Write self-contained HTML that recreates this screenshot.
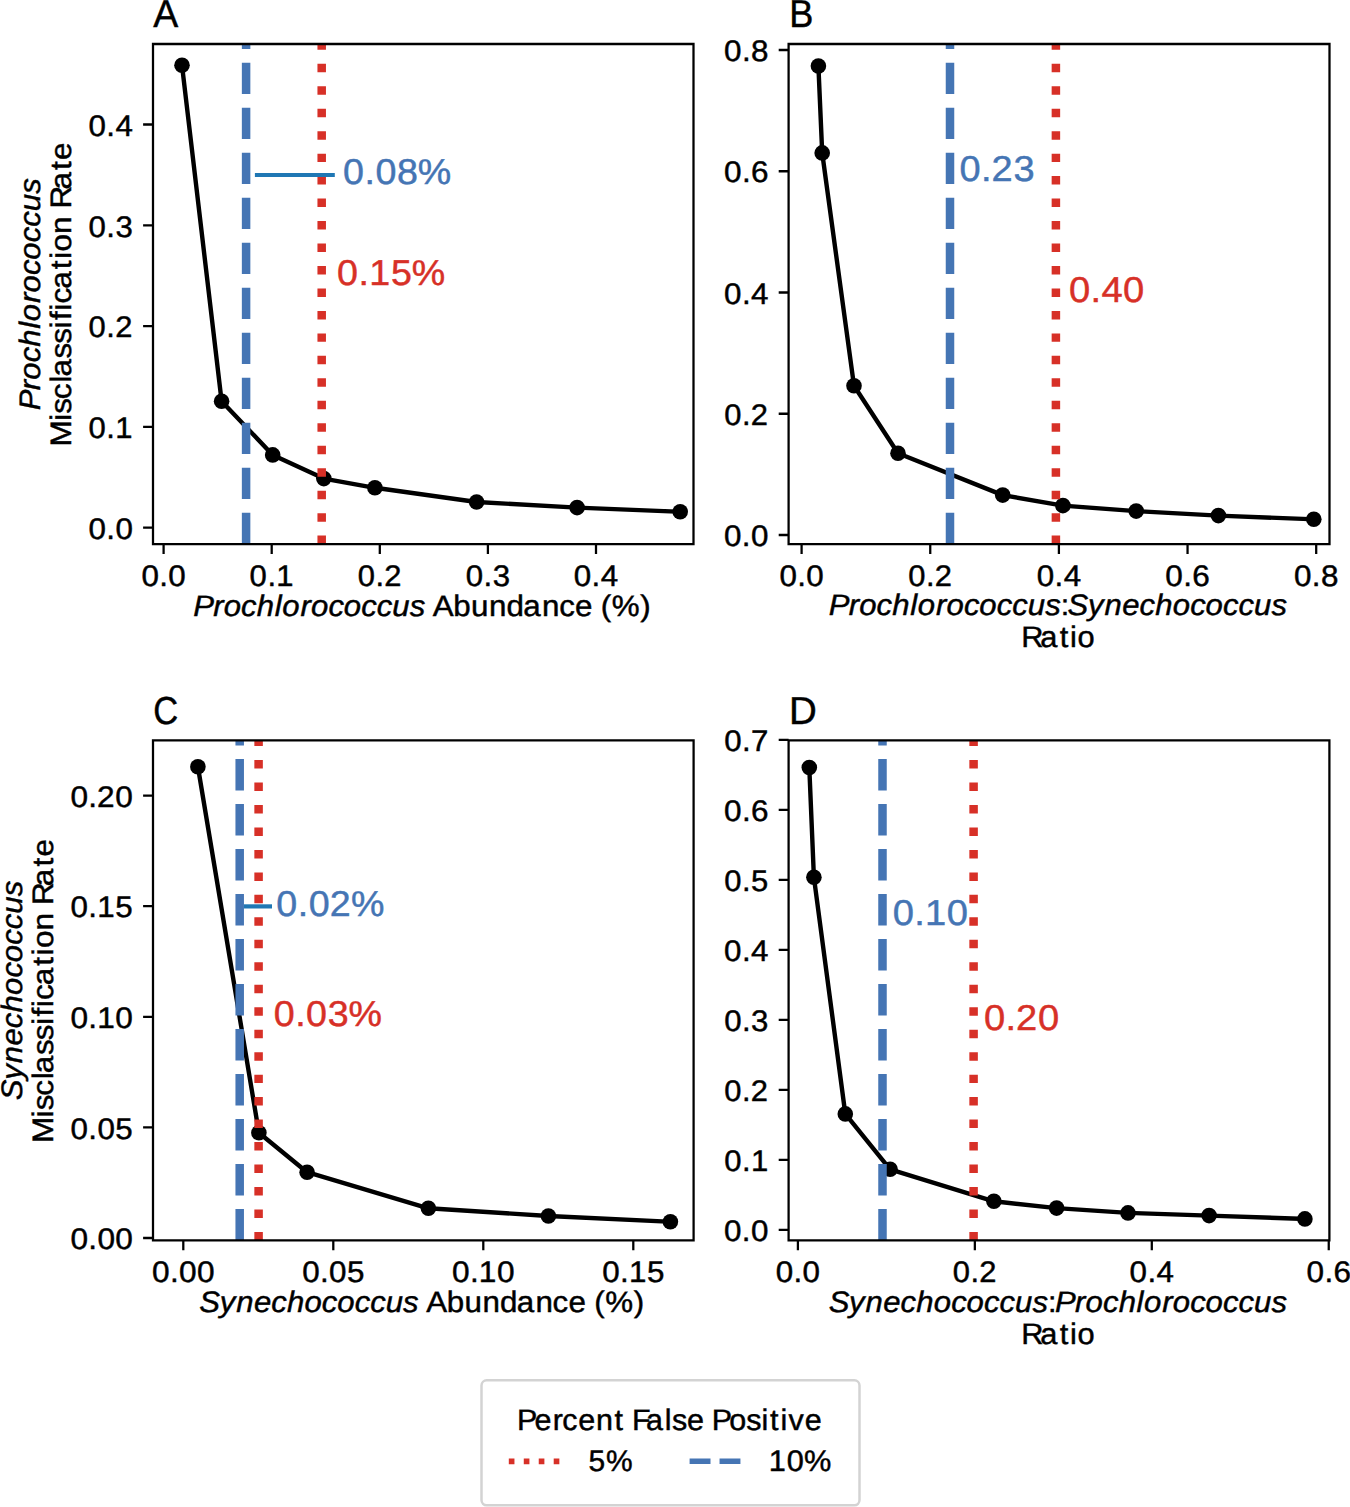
<!DOCTYPE html><html><head><meta charset="utf-8"><title>Misclassification rate</title><style>html,body{margin:0;padding:0;background:#fff;overflow:hidden;width:1350px;height:1507px;}svg{display:block;}text{font-family:"Liberation Sans",sans-serif;font-kerning:none;font-variant-ligatures:none;white-space:pre;text-rendering:geometricPrecision;}</style></head><body>
<svg width="1350" height="1507" viewBox="0 0 1350 1507">
<rect width="1350" height="1507" fill="#fff"/>
<polyline points="182,65.3 221.6,401.3 272.7,454.9 323.8,478.6 374.9,487.8 476.6,502 577.1,507.6 680.2,511.8" fill="none" stroke="#000" stroke-width="4.4" stroke-linejoin="round" stroke-linecap="square"/>
<circle cx="182" cy="65.3" r="7.8" fill="#000"/>
<circle cx="221.6" cy="401.3" r="7.8" fill="#000"/>
<circle cx="272.7" cy="454.9" r="7.8" fill="#000"/>
<circle cx="323.8" cy="478.6" r="7.8" fill="#000"/>
<circle cx="374.9" cy="487.8" r="7.8" fill="#000"/>
<circle cx="476.6" cy="502" r="7.8" fill="#000"/>
<circle cx="577.1" cy="507.6" r="7.8" fill="#000"/>
<circle cx="680.2" cy="511.8" r="7.8" fill="#000"/>
<path d="M321.7,544.1V44" stroke="#d73027" stroke-width="8.5" stroke-dasharray="8.48 13.99" fill="none"/>
<path d="M246.1,544.1V44" stroke="#4575b4" stroke-width="8.5" stroke-dasharray="31.4 13.6" fill="none"/>
<path d="M254.9,175H334.8" stroke="#1f77b4" stroke-width="4.2" fill="none"/>
<path d="M153,544.1V44M693.5,544.1V44M153,544.1H693.5M153,44H693.5" stroke="#000" stroke-width="2.26" stroke-linecap="square" fill="none"/>
<path d="M163.6,544.1v9.9M271.7,544.1v9.9M379.8,544.1v9.9M487.9,544.1v9.9M596,544.1v9.9M153,527.7h-9.9M153,426.9h-9.9M153,326.1h-9.9M153,225.3h-9.9M153,124.5h-9.9" stroke="#000" stroke-width="2.26" fill="none"/>
<text x="134.26 151.17 159.81" y="0" transform="translate(0,585.9) scale(1.0533,1)" font-size="29.75" fill="#000" stroke="#000" stroke-width="0.45" style="">0.0</text>
<text x="239.46 256.5 265.11" y="0" transform="translate(0,585.9) scale(1.0424,1)" font-size="29.75" fill="#000" stroke="#000" stroke-width="0.45" style="">0.1</text>
<text x="344.69 361.79 370.26" y="0" transform="translate(0,585.9) scale(1.0379,1)" font-size="29.75" fill="#000" stroke="#000" stroke-width="0.45" style="">0.2</text>
<text x="444.71 461.69 470.44" y="0" transform="translate(0,585.9) scale(1.0474,1)" font-size="29.75" fill="#000" stroke="#000" stroke-width="0.45" style="">0.3</text>
<text x="544.99 561.9 570.55" y="0" transform="translate(0,585.9) scale(1.0529,1)" font-size="29.75" fill="#000" stroke="#000" stroke-width="0.45" style="">0.4</text>
<text x="84.02 100.93 109.56" y="0" transform="translate(0,538.9) scale(1.0533,1)" font-size="29.75" fill="#000" stroke="#000" stroke-width="0.45" style="">0.0</text>
<text x="84.99 102.03 110.64" y="0" transform="translate(0,438.1) scale(1.0424,1)" font-size="29.75" fill="#000" stroke="#000" stroke-width="0.45" style="">0.1</text>
<text x="85.39 102.49 110.96" y="0" transform="translate(0,337.3) scale(1.0379,1)" font-size="29.75" fill="#000" stroke="#000" stroke-width="0.45" style="">0.2</text>
<text x="84.55 101.53 110.28" y="0" transform="translate(0,236.5) scale(1.0474,1)" font-size="29.75" fill="#000" stroke="#000" stroke-width="0.45" style="">0.3</text>
<text x="84.06 100.97 109.61" y="0" transform="translate(0,135.7) scale(1.0529,1)" font-size="29.75" fill="#000" stroke="#000" stroke-width="0.45" style="">0.4</text>
<text x="326.94 347.38 357.86 378.48 398.22" y="0" transform="translate(0,184.4) scale(1.0491,1)" font-size="35.87" fill="#4575b4" stroke="#4575b4" stroke-width="0.45" style="">0.08%</text>
<text x="321.22 341.67 351.94 372.64 392.5" y="0" transform="translate(0,285.1) scale(1.0491,1)" font-size="35.87" fill="#d73027" stroke="#d73027" stroke-width="0.45" style="">0.15%</text>
<text x="159.7" y="0" transform="translate(0,27.2) scale(0.9594,1)" font-size="39.06" fill="#000" stroke="#000" stroke-width="0.45" style="">A</text>
<polyline points="818.4,66 822.2,152.9 854,385.8 898,453.3 1002.7,495.1 1062.9,505.6 1136.2,511.1 1218.4,515.6 1313.8,519.3" fill="none" stroke="#000" stroke-width="4.4" stroke-linejoin="round" stroke-linecap="square"/>
<circle cx="818.4" cy="66" r="7.8" fill="#000"/>
<circle cx="822.2" cy="152.9" r="7.8" fill="#000"/>
<circle cx="854" cy="385.8" r="7.8" fill="#000"/>
<circle cx="898" cy="453.3" r="7.8" fill="#000"/>
<circle cx="1002.7" cy="495.1" r="7.8" fill="#000"/>
<circle cx="1062.9" cy="505.6" r="7.8" fill="#000"/>
<circle cx="1136.2" cy="511.1" r="7.8" fill="#000"/>
<circle cx="1218.4" cy="515.6" r="7.8" fill="#000"/>
<circle cx="1313.8" cy="519.3" r="7.8" fill="#000"/>
<path d="M1055.9,544.1V44" stroke="#d73027" stroke-width="8.5" stroke-dasharray="8.48 13.99" fill="none"/>
<path d="M950,544.1V44" stroke="#4575b4" stroke-width="8.5" stroke-dasharray="31.4 13.6" fill="none"/>
<path d="M788.6,544.1V44M1329.5,544.1V44M788.6,544.1H1329.5M788.6,44H1329.5" stroke="#000" stroke-width="2.26" stroke-linecap="square" fill="none"/>
<path d="M801.6,544.1v9.9M930.25,544.1v9.9M1058.9,544.1v9.9M1187.55,544.1v9.9M1316.2,544.1v9.9M788.6,535h-9.9M788.6,413.75h-9.9M788.6,292.5h-9.9M788.6,171.25h-9.9M788.6,50h-9.9" stroke="#000" stroke-width="2.26" fill="none"/>
<text x="739.95 756.86 765.5" y="0" transform="translate(0,585.9) scale(1.0533,1)" font-size="29.75" fill="#000" stroke="#000" stroke-width="0.45" style="">0.0</text>
<text x="875.05 892.15 900.62" y="0" transform="translate(0,585.9) scale(1.0379,1)" font-size="29.75" fill="#000" stroke="#000" stroke-width="0.45" style="">0.2</text>
<text x="984.63 1001.54 1010.19" y="0" transform="translate(0,585.9) scale(1.0529,1)" font-size="29.75" fill="#000" stroke="#000" stroke-width="0.45" style="">0.4</text>
<text x="1099.61 1116.44 1125" y="0" transform="translate(0,585.9) scale(1.0598,1)" font-size="29.75" fill="#000" stroke="#000" stroke-width="0.45" style="">0.6</text>
<text x="1226.01 1242.89 1251.5" y="0" transform="translate(0,585.9) scale(1.0555,1)" font-size="29.75" fill="#000" stroke="#000" stroke-width="0.45" style="">0.8</text>
<text x="687.43 704.34 712.98" y="0" transform="translate(0,546.2) scale(1.0533,1)" font-size="29.75" fill="#000" stroke="#000" stroke-width="0.45" style="">0.0</text>
<text x="697.79 714.89 723.36" y="0" transform="translate(0,424.95) scale(1.0379,1)" font-size="29.75" fill="#000" stroke="#000" stroke-width="0.45" style="">0.2</text>
<text x="687.72 704.63 713.27" y="0" transform="translate(0,303.7) scale(1.0529,1)" font-size="29.75" fill="#000" stroke="#000" stroke-width="0.45" style="">0.4</text>
<text x="683.22 700.05 708.61" y="0" transform="translate(0,182.45) scale(1.0598,1)" font-size="29.75" fill="#000" stroke="#000" stroke-width="0.45" style="">0.6</text>
<text x="686.03 702.91 711.52" y="0" transform="translate(0,61.2) scale(1.0555,1)" font-size="29.75" fill="#000" stroke="#000" stroke-width="0.45" style="">0.8</text>
<text x="906.56 926.87 936.79 957.7" y="0" transform="translate(0,180.9) scale(1.0584,1)" font-size="35.87" fill="#4575b4" stroke="#4575b4" stroke-width="0.45" style="">0.23</text>
<text x="1006.02 1026.27 1036.55 1056.91" y="0" transform="translate(0,301.8) scale(1.0626,1)" font-size="35.87" fill="#d73027" stroke="#d73027" stroke-width="0.45" style="">0.40</text>
<text x="853.01" y="0" transform="translate(0,27.2) scale(0.9253,1)" font-size="39.06" fill="#000" stroke="#000" stroke-width="0.45" style="">B</text>
<polyline points="197.9,766.7 258.9,1132.7 307.1,1172.2 428.4,1208.3 548.4,1216 670.4,1221.8" fill="none" stroke="#000" stroke-width="4.4" stroke-linejoin="round" stroke-linecap="square"/>
<circle cx="197.9" cy="766.7" r="7.8" fill="#000"/>
<circle cx="258.9" cy="1132.7" r="7.8" fill="#000"/>
<circle cx="307.1" cy="1172.2" r="7.8" fill="#000"/>
<circle cx="428.4" cy="1208.3" r="7.8" fill="#000"/>
<circle cx="548.4" cy="1216" r="7.8" fill="#000"/>
<circle cx="670.4" cy="1221.8" r="7.8" fill="#000"/>
<path d="M258.6,1240.4V740.4" stroke="#d73027" stroke-width="8.5" stroke-dasharray="8.48 13.99" fill="none"/>
<path d="M239.7,1240.4V740.4" stroke="#4575b4" stroke-width="8.5" stroke-dasharray="31.4 13.6" fill="none"/>
<path d="M243.9,906.4H272" stroke="#1f77b4" stroke-width="4.2" fill="none"/>
<path d="M153,1240.4V740.4M693.6,1240.4V740.4M153,1240.4H693.6M153,740.4H693.6" stroke="#000" stroke-width="2.26" stroke-linecap="square" fill="none"/>
<path d="M183.3,1240.4v9.9M333.3,1240.4v9.9M483.3,1240.4v9.9M633.3,1240.4v9.9M153,1238h-9.9M153,1127.4h-9.9M153,1016.8h-9.9M153,906.2h-9.9M153,795.6h-9.9" stroke="#000" stroke-width="2.26" fill="none"/>
<text x="143.12 159.92 168.44 185.33" y="0" transform="translate(0,1282.2) scale(1.0626,1)" font-size="29.75" fill="#000" stroke="#000" stroke-width="0.45" style="">0.00</text>
<text x="286.79 303.69 312.33 329.25" y="0" transform="translate(0,1282.2) scale(1.0536,1)" font-size="29.75" fill="#000" stroke="#000" stroke-width="0.45" style="">0.05</text>
<text x="425.46 442.25 450.61 467.66" y="0" transform="translate(0,1282.2) scale(1.0626,1)" font-size="29.75" fill="#000" stroke="#000" stroke-width="0.45" style="">0.10</text>
<text x="571.53 588.44 596.91 614" y="0" transform="translate(0,1282.2) scale(1.0536,1)" font-size="29.75" fill="#000" stroke="#000" stroke-width="0.45" style="">0.15</text>
<text x="66.33 83.13 91.65 108.54" y="0" transform="translate(0,1249.2) scale(1.0626,1)" font-size="29.75" fill="#000" stroke="#000" stroke-width="0.45" style="">0.00</text>
<text x="66.97 83.87 92.51 109.44" y="0" transform="translate(0,1138.6) scale(1.0536,1)" font-size="29.75" fill="#000" stroke="#000" stroke-width="0.45" style="">0.05</text>
<text x="66.33 83.13 91.49 108.54" y="0" transform="translate(0,1028) scale(1.0626,1)" font-size="29.75" fill="#000" stroke="#000" stroke-width="0.45" style="">0.10</text>
<text x="66.97 83.87 92.34 109.44" y="0" transform="translate(0,917.4) scale(1.0536,1)" font-size="29.75" fill="#000" stroke="#000" stroke-width="0.45" style="">0.15</text>
<text x="66.33 83.13 91.3 108.54" y="0" transform="translate(0,806.8) scale(1.0626,1)" font-size="29.75" fill="#000" stroke="#000" stroke-width="0.45" style="">0.20</text>
<text x="263.27 283.71 294.19 314.38 334.55" y="0" transform="translate(0,915.8) scale(1.0491,1)" font-size="35.87" fill="#4575b4" stroke="#4575b4" stroke-width="0.45" style="">0.02%</text>
<text x="260.89 281.33 291.81 312.47 332.17" y="0" transform="translate(0,1026.4) scale(1.0491,1)" font-size="35.87" fill="#d73027" stroke="#d73027" stroke-width="0.45" style="">0.03%</text>
<text x="173.44" y="0" transform="translate(0,723.6) scale(0.8841,1)" font-size="39.06" fill="#000" stroke="#000" stroke-width="0.45" style="">C</text>
<polyline points="809.3,767.5 813.9,877.2 845.3,1113.9 890.1,1169.3 993.9,1201.3 1056.6,1208.1 1128,1212.9 1209.1,1215.6 1304.9,1218.9" fill="none" stroke="#000" stroke-width="4.4" stroke-linejoin="round" stroke-linecap="square"/>
<circle cx="809.3" cy="767.5" r="7.8" fill="#000"/>
<circle cx="813.9" cy="877.2" r="7.8" fill="#000"/>
<circle cx="845.3" cy="1113.9" r="7.8" fill="#000"/>
<circle cx="890.1" cy="1169.3" r="7.8" fill="#000"/>
<circle cx="993.9" cy="1201.3" r="7.8" fill="#000"/>
<circle cx="1056.6" cy="1208.1" r="7.8" fill="#000"/>
<circle cx="1128" cy="1212.9" r="7.8" fill="#000"/>
<circle cx="1209.1" cy="1215.6" r="7.8" fill="#000"/>
<circle cx="1304.9" cy="1218.9" r="7.8" fill="#000"/>
<path d="M973.6,1240.4V740.4" stroke="#d73027" stroke-width="8.5" stroke-dasharray="8.48 13.99" fill="none"/>
<path d="M882.5,1240.4V740.4" stroke="#4575b4" stroke-width="8.5" stroke-dasharray="31.4 13.6" fill="none"/>
<path d="M788.6,1240.4V740.4M1329.4,1240.4V740.4M788.6,1240.4H1329.4M788.6,740.4H1329.4" stroke="#000" stroke-width="2.26" stroke-linecap="square" fill="none"/>
<path d="M797.9,1240.4v9.9M974.85,1240.4v9.9M1151.8,1240.4v9.9M1328.75,1240.4v9.9M788.6,1229.95h-9.9M788.6,1159.93h-9.9M788.6,1089.91h-9.9M788.6,1019.89h-9.9M788.6,949.87h-9.9M788.6,879.85h-9.9M788.6,809.83h-9.9M788.6,739.81h-9.9" stroke="#000" stroke-width="2.26" fill="none"/>
<text x="736.44 753.35 761.99" y="0" transform="translate(0,1282.2) scale(1.0533,1)" font-size="29.75" fill="#000" stroke="#000" stroke-width="0.45" style="">0.0</text>
<text x="918.02 935.12 943.59" y="0" transform="translate(0,1282.2) scale(1.0379,1)" font-size="29.75" fill="#000" stroke="#000" stroke-width="0.45" style="">0.2</text>
<text x="1072.86 1089.77 1098.42" y="0" transform="translate(0,1282.2) scale(1.0529,1)" font-size="29.75" fill="#000" stroke="#000" stroke-width="0.45" style="">0.4</text>
<text x="1232.85 1249.68 1258.24" y="0" transform="translate(0,1282.2) scale(1.0598,1)" font-size="29.75" fill="#000" stroke="#000" stroke-width="0.45" style="">0.6</text>
<text x="687.43 704.34 712.98" y="0" transform="translate(0,1241.15) scale(1.0533,1)" font-size="29.75" fill="#000" stroke="#000" stroke-width="0.45" style="">0.0</text>
<text x="694.73 711.77 720.38" y="0" transform="translate(0,1171.13) scale(1.0424,1)" font-size="29.75" fill="#000" stroke="#000" stroke-width="0.45" style="">0.1</text>
<text x="697.79 714.89 723.36" y="0" transform="translate(0,1101.11) scale(1.0379,1)" font-size="29.75" fill="#000" stroke="#000" stroke-width="0.45" style="">0.2</text>
<text x="691.4 708.38 717.13" y="0" transform="translate(0,1031.09) scale(1.0474,1)" font-size="29.75" fill="#000" stroke="#000" stroke-width="0.45" style="">0.3</text>
<text x="687.72 704.63 713.27" y="0" transform="translate(0,961.07) scale(1.0529,1)" font-size="29.75" fill="#000" stroke="#000" stroke-width="0.45" style="">0.4</text>
<text x="696.02 713.08 721.78" y="0" transform="translate(0,891.05) scale(1.0405,1)" font-size="29.75" fill="#000" stroke="#000" stroke-width="0.45" style="">0.5</text>
<text x="683.22 700.05 708.61" y="0" transform="translate(0,821.03) scale(1.0598,1)" font-size="29.75" fill="#000" stroke="#000" stroke-width="0.45" style="">0.6</text>
<text x="690.61 707.57 716.21" y="0" transform="translate(0,751.01) scale(1.0486,1)" font-size="29.75" fill="#000" stroke="#000" stroke-width="0.45" style="">0.7</text>
<text x="840.19 860.44 870.52 891.08" y="0" transform="translate(0,924.6) scale(1.0626,1)" font-size="35.87" fill="#4575b4" stroke="#4575b4" stroke-width="0.45" style="">0.10</text>
<text x="926.02 946.27 956.13 976.91" y="0" transform="translate(0,1029.8) scale(1.0626,1)" font-size="35.87" fill="#d73027" stroke="#d73027" stroke-width="0.45" style="">0.20</text>
<text x="800.82" y="0" transform="translate(0,723.6) scale(0.9854,1)" font-size="39.06" fill="#000" stroke="#000" stroke-width="0.45" style="">D</text>
<text x="184.12 203.13 213.14 229.7 244.65 261.68 268.84 286.32 296.32 312.89 327.53 344.09 358.87 373.66 390.3" y="0" transform="translate(0,615.7) scale(1.0496,1)" font-size="29.61" fill="#000" stroke="#000" stroke-width="0.45" style="font-style:italic;">Prochlorococcus</text>
<text x="409.02 428.39 445.09 462.09 478.79 494.52 512.23 528.45 543.52 559.9 567.89 578.27 605.11" y="0" transform="translate(0,615.7) scale(1.0581,1)" font-size="29.61" fill="#000" stroke="#000" stroke-width="0.45" style="">Abundance (%)</text>
<text x="189.99 209.47 225.19 242.06 258.6 273.56 290.29 306.87 321.52 338.1 352.88 367.68 384.34" y="0" transform="translate(0,1312.1) scale(1.0489,1)" font-size="29.61" fill="#000" stroke="#000" stroke-width="0.45" style="font-style:italic;">Synechococcus</text>
<text x="402.84 422.21 438.91 455.92 472.62 488.35 506.06 522.27 537.35 553.73 561.71 572.09 598.94" y="0" transform="translate(0,1312.1) scale(1.0581,1)" font-size="29.61" fill="#000" stroke="#000" stroke-width="0.45" style="">Abundance (%)</text>
<text x="789.57 808.59 818.59 835.16 850.1 867.14 874.29 891.78 901.78 918.34 932.99 949.55 964.32 979.11 995.76" y="0" transform="translate(0,615.4) scale(1.0496,1)" font-size="29.61" fill="#000" stroke="#000" stroke-width="0.45" style="font-style:italic;">Prochlorococcus</text>
<text x="1029.24" y="0" transform="translate(0,615.4) scale(1.0305,1)" font-size="29.61" fill="#000" stroke="#000" stroke-width="0.45" style="">:</text>
<text x="1017.79 1037.27 1052.99 1069.87 1086.4 1101.36 1118.1 1134.67 1149.33 1165.9 1180.68 1195.49 1212.14" y="0" transform="translate(0,615.4) scale(1.0489,1)" font-size="29.61" fill="#000" stroke="#000" stroke-width="0.45" style="font-style:italic;">Synechococcus</text>
<text x="981.75 999.88 1018.59 1028.58 1035.69" y="0" transform="translate(0,647.1) scale(1.0403,1)" font-size="29.61" fill="#000" stroke="#000" stroke-width="0.45" style="">Ratio</text>
<text x="790.03 809.51 825.23 842.1 858.64 873.6 890.33 906.91 921.56 938.14 952.92 967.72 984.38" y="0" transform="translate(0,1311.9) scale(1.0489,1)" font-size="29.61" fill="#000" stroke="#000" stroke-width="0.45" style="font-style:italic;">Synechococcus</text>
<text x="1016.98" y="0" transform="translate(0,1311.9) scale(1.0305,1)" font-size="29.61" fill="#000" stroke="#000" stroke-width="0.45" style="">:</text>
<text x="1005.24 1024.26 1034.26 1050.82 1065.77 1082.8 1089.96 1107.44 1117.44 1134.01 1148.65 1165.22 1179.99 1194.78 1211.42" y="0" transform="translate(0,1311.9) scale(1.0496,1)" font-size="29.61" fill="#000" stroke="#000" stroke-width="0.45" style="font-style:italic;">Prochlorococcus</text>
<text x="981.75 999.88 1018.59 1028.58 1035.69" y="0" transform="translate(0,1343.5) scale(1.0403,1)" font-size="29.61" fill="#000" stroke="#000" stroke-width="0.45" style="">Ratio</text>
<text x="-390.83 -371.81 -361.81 -345.24 -330.3 -313.26 -306.11 -288.63 -278.62 -262.06 -247.42 -230.85 -216.08 -201.29 -184.64" y="0" transform="translate(39.6,0) rotate(-90) scale(1.0496,1)" font-size="29.61" fill="#000" stroke="#000" stroke-width="0.45" style="font-style:italic;">Prochlorococcus</text>
<text x="-420.07 -395.89 -389.22 -375.54 -360.12 -354.29 -337.19 -323.37 -308.84 -300.99 -292.13 -285.6 -271.72 -253.31 -243.51 -236.66 -220.09 -203.5 -196.15 -178.36 -159.95 -150.58" y="0" transform="translate(71.3,0) rotate(-90) scale(1.0630,1)" font-size="29.61" fill="#000" stroke="#000" stroke-width="0.45" style="">Misclassification Rate</text>
<text x="-1048.9 -1029.42 -1013.7 -996.83 -980.29 -965.33 -948.6 -932.02 -917.37 -900.79 -886.01 -871.21 -854.55" y="0" transform="translate(22,0) rotate(-90) scale(1.0489,1)" font-size="29.61" fill="#000" stroke="#000" stroke-width="0.45" style="font-style:italic;">Synechococcus</text>
<text x="-1075.32 -1051.14 -1044.47 -1030.79 -1015.37 -1009.54 -992.44 -978.61 -964.09 -956.24 -947.37 -940.85 -926.97 -908.56 -898.76 -891.91 -875.34 -858.75 -851.4 -833.61 -815.2 -805.83" y="0" transform="translate(53.2,0) rotate(-90) scale(1.0630,1)" font-size="29.61" fill="#000" stroke="#000" stroke-width="0.45" style="">Misclassification Rate</text>
<rect x="481.5" y="1380.3" width="378.0" height="125.0" rx="5.2" ry="5.2" fill="#fff" stroke="#d3d3d3" stroke-width="2.5"/>
<text x="502.47 519.44 537.26 546.51 562.03 579.15 597.19 606.75 614.23 627.83 646.02 653.05 667.65 684.26 691.8 708.68 725.22 740.1 748.37 758.46 766.25 782.01" y="0" transform="translate(0,1430.2) scale(1.0290,1)" font-size="29.61" fill="#000" stroke="#000" stroke-width="0.45" style="">Percent False Positive</text>
<path d="M508.8,1461.3H565.2" stroke="#d73027" stroke-width="5.65" stroke-dasharray="5.65 9.32" fill="none"/>
<path d="M689.6,1461.2H746.0" stroke="#4575b4" stroke-width="5.65" stroke-dasharray="20.9 9.04" fill="none"/>
<text x="584.95 602.34" y="0" transform="translate(0,1471.4) scale(1.0063,1)" font-size="29.75" fill="#000" stroke="#000" stroke-width="0.45" style="">5%</text>
<text x="744.74 762.28 779.01" y="0" transform="translate(0,1471.3) scale(1.0321,1)" font-size="29.75" fill="#000" stroke="#000" stroke-width="0.45" style="">10%</text>
</svg></body></html>
